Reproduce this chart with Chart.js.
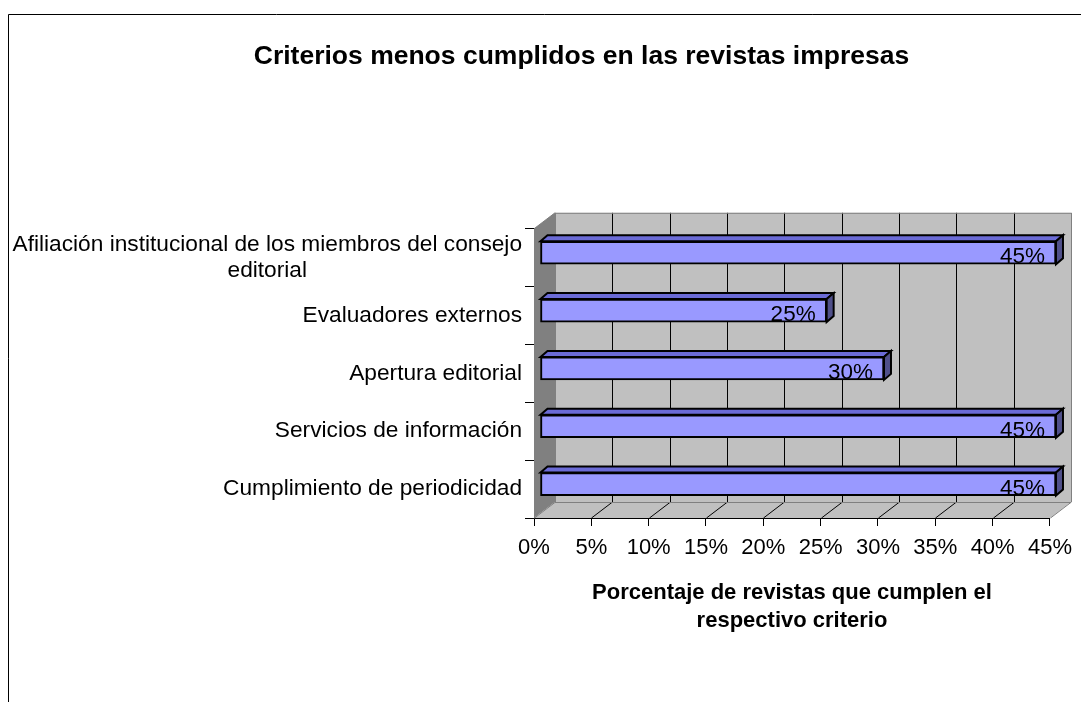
<!DOCTYPE html>
<html>
<head>
<meta charset="utf-8">
<script src="https://cdn.jsdelivr.net/npm/chart.js@4.4.0/dist/chart.umd.min.js"></script>
<style>
  html, body { margin: 0; padding: 0; background: #fff; }
  #wrap { width: 1081px; height: 702px; }
</style>
</head>
<body>
<div id="wrap"><canvas id="grafica" width="1081" height="702"></canvas></div>
<script>
/* datos */
const categorias = [
  ['Afiliación institucional de los miembros del consejo', 'editorial'],
  'Evaluadores externos',
  'Apertura editorial',
  'Servicios de información',
  'Cumplimiento de periodicidad'
];
const porcentajes = [45, 25, 30, 45, 45];
const ejeMax = 45;
const ejePaso = 5;

const FUENTE = '"Liberation Sans", Arial, sans-serif';
const FONDO_MURO = '#c0c0c0';
const MURO_LADO  = '#808080';
const BORDE_GRIS = '#808080';

// profundidad de la caja 3D y de cada barra
const PROF   = { dx: 21, dy: -16 };
const DESPL  = { dx: 6,  dy: -5 };
const BARRA3 = { dx: 7,  dy: -6 };

function poly(ctx, pts, fill, stroke, lw) {
  ctx.beginPath();
  ctx.moveTo(pts[0][0], pts[0][1]);
  for (let i = 1; i < pts.length; i++) ctx.lineTo(pts[i][0], pts[i][1]);
  ctx.closePath();
  if (fill) { ctx.fillStyle = fill; ctx.fill(); }
  if (stroke) { ctx.strokeStyle = stroke; ctx.lineWidth = lw || 1; ctx.stroke(); }
}

function line(ctx, x1, y1, x2, y2, color) {
  ctx.beginPath();
  ctx.moveTo(x1, y1);
  ctx.lineTo(x2, y2);
  ctx.strokeStyle = color;
  ctx.lineWidth = 1;
  ctx.stroke();
}

/* marco, muros, piso y caras de las barras */
const plugin3D = {
  id: 'tresD',
  beforeDraw(chart) {
    const ctx = chart.ctx;
    ctx.save();
    ctx.fillStyle = '#fff';
    ctx.fillRect(0, 0, chart.width, chart.height);
    ctx.beginPath();
    ctx.moveTo(8.5, chart.height);
    ctx.lineTo(8.5, 14.5);
    ctx.lineTo(chart.width, 14.5);
    ctx.strokeStyle = '#000';
    ctx.lineWidth = 1;
    ctx.stroke();
    ctx.restore();
  },
  beforeDatasetsDraw(chart) {
    const { ctx, chartArea: a, scales: { x } } = chart;
    const { dx, dy } = PROF;
    ctx.save();
    // muro lateral
    poly(ctx, [[a.left, a.top], [a.left + dx, a.top + dy], [a.left + dx, a.bottom + dy], [a.left, a.bottom]], MURO_LADO);
    // piso
    poly(ctx, [[a.left, a.bottom], [a.left + dx, a.bottom + dy], [a.right + dx, a.bottom + dy], [a.right, a.bottom]], FONDO_MURO);
    // muro del fondo
    ctx.fillStyle = FONDO_MURO;
    ctx.fillRect(a.left + dx, a.top + dy, a.right - a.left, a.bottom - a.top);

    x.ticks.forEach((t, i) => {
      const px = Math.round(x.getPixelForValue(t.value)) + 0.5;
      const borde = (i === 0 || i === x.ticks.length - 1);
      const col = borde ? BORDE_GRIS : '#000';
      line(ctx, px + dx, a.top + dy, px + dx, a.bottom + dy, col);
      line(ctx, px, a.bottom, px + dx, a.bottom + dy, col);
    });
    // bordes de la caja
    line(ctx, a.left + dx, a.top + dy + 0.5, a.right + dx, a.top + dy + 0.5, BORDE_GRIS);
    line(ctx, a.left, a.top, a.left + dx, a.top + dy, BORDE_GRIS);
    line(ctx, a.left + dx, a.bottom + dy + 0.5, a.right + dx, a.bottom + dy + 0.5, BORDE_GRIS);

    // caras superiores y laterales de las barras
    ctx.translate(DESPL.dx, DESPL.dy);
    const meta = chart.getDatasetMeta(0);
    meta.data.forEach(el => {
      const p = el.getProps(['x', 'y', 'base', 'height'], true);
      const top = p.y - p.height / 2, bot = p.y + p.height / 2;
      const bx = BARRA3.dx, by = BARRA3.dy;
      poly(ctx, [[p.base, top], [p.base + bx, top + by], [p.x + bx, top + by], [p.x, top]], '#6b6bd6', '#000', 2);
      poly(ctx, [[p.x, top], [p.x + bx, top + by], [p.x + bx, bot + by], [p.x, bot]], '#50508a', '#000', 2);
    });
  },
  afterDatasetsDraw(chart) {
    const ctx = chart.ctx;
    const meta = chart.getDatasetMeta(0);
    ctx.font = '22.5px ' + FUENTE;
    ctx.fillStyle = '#000';
    ctx.textAlign = 'right';
    ctx.textBaseline = 'alphabetic';
    meta.data.forEach((el, i) => {
      const p = el.getProps(['x', 'y', 'height'], true);
      ctx.fillText(porcentajes[i] + '%', p.x - 11, p.y + p.height / 2 - 1);
    });
    ctx.restore();
  },
  afterDraw(chart) {
    // etiquetas de categorías (multilínea centradas)
    const { ctx, scales: { y } } = chart;
    ctx.save();
    ctx.font = '22.7px ' + FUENTE;
    ctx.fillStyle = '#000';
    ctx.textBaseline = 'middle';
    ctx.textAlign = 'center';
    const derecha = 522, alto = 26;
    categorias.forEach((c, i) => {
      const lineas = Array.isArray(c) ? c : [c];
      const ancho = Math.max(...lineas.map(l => ctx.measureText(l).width));
      const cx = derecha - ancho / 2;
      const py = y.getPixelForValue(i);
      lineas.forEach((l, j) => {
        ctx.fillText(l, cx, py + (j - (lineas.length - 1) / 2) * alto);
      });
    });
    ctx.restore();
  }
};

new Chart(document.getElementById('grafica'), {
  type: 'bar',
  data: {
    labels: categorias,
    datasets: [{
      data: porcentajes,
      backgroundColor: '#9999ff',
      borderColor: '#000',
      borderWidth: 2,
      borderSkipped: false,
      barThickness: 23
    }]
  },
  options: {
    indexAxis: 'y',
    responsive: false,
    animation: false,
    events: [],
    layout: { padding: { left: 112, right: 30, top: 0, bottom: 0 } },
    plugins: {
      legend: { display: false },
      tooltip: { enabled: false },
      title: {
        display: true,
        text: 'Criterios menos cumplidos en las revistas impresas',
        color: '#000',
        font: { family: FUENTE, size: 26.5, weight: 'bold', lineHeight: 1.2 },
        padding: { top: 41, bottom: 156 }
      }
    },
    scales: {
      x: {
        min: 0,
        max: ejeMax,
        afterFit(s) { s.height = 184; },
        ticks: {
          stepSize: ejePaso,
          color: '#000',
          padding: 9,
          font: { family: FUENTE, size: 22 },
          callback: v => v + '%'
        },
        grid: { drawOnChartArea: false, drawTicks: true, tickLength: 8, color: '#000' },
        border: { display: true, color: '#000', width: 1 },
        title: {
          display: true,
          text: ['Porcentaje de revistas que cumplen el', 'respectivo criterio'],
          color: '#000',
          font: { family: FUENTE, size: 22, weight: 'bold', lineHeight: 1.23 },
          padding: { top: 0, bottom: 68 }
        }
      },
      y: {
        afterFit(s) { s.width = 534 - 112; },
        ticks: { display: false },
        grid: { offset: true, drawOnChartArea: false, drawTicks: true, tickLength: 9, color: '#000' },
        border: { display: true, color: '#000', width: 1 }
      }
    }
  },
  plugins: [plugin3D]
});
</script>
</body>
</html>
